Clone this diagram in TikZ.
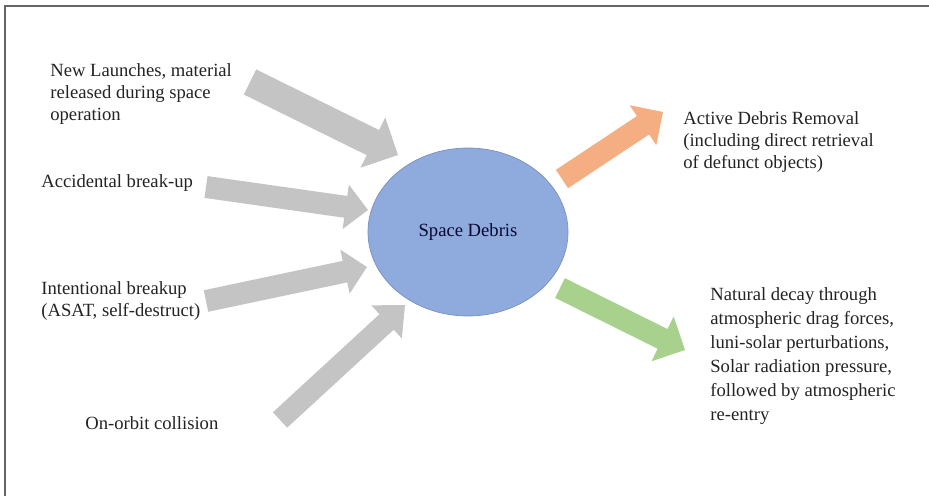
\documentclass[tikz,border=0pt]{standalone}
\usepackage{fontspec}
\setmainfont{Liberation Serif}
\usetikzlibrary{calc,shapes.geometric}

% block arrow: fill style, tail, tip, half shaft width, half head width, head length
\newcommand{\blockarrow}[6]{%
  \path coordinate (ba) at ($(#3)!#6!(#2)$);
  \fill[#1] ($(#2)!#4!90:(#3)$) -- ($(ba)!#4!90:(#3)$) -- ($(ba)!#5!90:(#3)$) -- (#3)
    -- ($(ba)!#5!-90:(#3)$) -- ($(ba)!#4!-90:(#3)$) -- ($(#2)!#4!-90:(#3)$) -- cycle;
}

\begin{document}
\begin{tikzpicture}[x=0.2mm, y=-0.2mm, font=\fontsize{10.6}{12.5}\selectfont]
		\definecolor{inflow}{RGB}{196, 196, 196}
		\definecolor{debrisblue}{RGB}{143, 170, 220}
		\definecolor{removal}{RGB}{244, 174, 130}
		\definecolor{decay}{RGB}{169, 209, 142}
		\definecolor{ink}{RGB}{35, 35, 35}
		\tikzset{label/.style={anchor=west, align=left, inner sep=0pt, text=ink}}
		
		\useasboundingbox (0,0) rectangle (929,496);
		
		% frame
		\draw[gray!80!black, line width=0.25mm] (5,496) -- (5,6) -- (929,6);
		
		% centre
		\node[ellipse, fill=debrisblue, draw=debrisblue!85!black, thin,
			minimum width=40mm, minimum height=33.6mm, text=ink!60!blue!40!black] (debris) at (468,232) {Space Debris};
		
		% sources
		\node[label] (launch) at (50,94) {New Launches, material\\released during space\\operation};
		\node[label] (accident) at (41,183) {Accidental break-up};
		\node[label] (intent) at (41,301) {Intentional breakup\\(ASAT, self-destruct)};
		\node[label] (orbit) at (85,423) {On-orbit collision};
		
		% sinks
		\node[label] (removal) at (683,142) {Active Debris Removal\\(including direct retrieval\\of defunct objects)};
		\node[label, font=\fontsize{10.6}{13.6}\selectfont] (decaytext) at (710,356) {Natural decay through\\atmospheric drag forces,\\luni-solar perturbations,\\Solar radiation pressure,\\followed by atmospheric\\re-entry};
		
		% arrow ends
		\coordinate (launchtail) at (250,82);   \coordinate (launchtip) at (398,155);
		\coordinate (accidenttail) at (206,187); \coordinate (accidenttip) at (368,210);
		\coordinate (intenttail) at (206,301);  \coordinate (intenttip) at (367,267);
		\coordinate (orbittail) at (280,420);   \coordinate (orbittip) at (405,305);
		\coordinate (removaltail) at (562,179); \coordinate (removaltip) at (663,112);
		\coordinate (decaytail) at (560,288);   \coordinate (decaytip) at (685,350);
		
		\blockarrow{inflow}{launchtail}{launchtip}{2.8mm}{5.6mm}{5.6mm}
		\blockarrow{inflow}{accidenttail}{accidenttip}{2.2mm}{4.5mm}{4.5mm}
		\blockarrow{inflow}{intenttail}{intenttip}{2.2mm}{4.5mm}{4.5mm}
		\blockarrow{inflow}{orbittail}{orbittip}{2.1mm}{4.5mm}{5mm}
		\blockarrow{removal}{removaltail}{removaltip}{2.2mm}{4.8mm}{4.8mm}
		\blockarrow{decay}{decaytail}{decaytip}{2.2mm}{5mm}{5mm}
	\end{tikzpicture}
\end{document}
